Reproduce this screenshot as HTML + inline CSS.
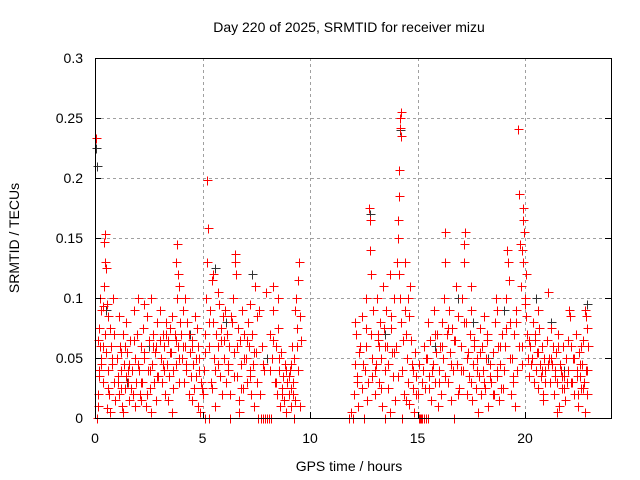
<!DOCTYPE html>
<html><head><meta charset="utf-8"><style>
html,body{margin:0;padding:0;background:#fff;}
svg{display:block;font-family:"Liberation Sans",sans-serif;}
</style></head><body>
<svg id="chart" width="640" height="480" viewBox="0 0 640 480" xmlns="http://www.w3.org/2000/svg">
<rect width="640" height="480" fill="#fff"/>
<text x="349" y="32" font-size="14" text-anchor="middle" fill="#000">Day 220 of 2025, SRMTID for receiver mizu</text>
<g id="grid"></g>
<g id="black"></g>
<g id="red"></g>
<rect x="95.5" y="58.5" width="516" height="360" fill="none" stroke="#000" stroke-width="1" shape-rendering="crispEdges"/>
<g id="ticks"></g>
<text x="349" y="471" font-size="14" text-anchor="middle">GPS time / hours</text>
<text transform="translate(19,238) rotate(-90)" font-size="14" text-anchor="middle">SRMTID / TECUs</text>
</svg>
<script>
const xTicks=[0,5,10,15,20];
const yTicks=[0,0.05,0.1,0.15,0.2,0.25,0.3];
const yTickLabels=["0","0.05","0.1","0.15","0.2","0.25","0.3"];
const redH=[0.05,0.1,0.12,0.15,0.2,0.25,0.3,0.35,0.4,0.42,0.45,0.48,0.5,0.55,0.6,0.3,0.35,0.45,0.5,0.6,0.65,0.7,0.75,0.8,0.85,0.9,0.95,0.55,0.7,0.2,0.25,0.15,
1.0,1.05,1.1,1.15,1.2,1.25,1.3,1.35,1.4,1.45,1.5,1.55,1.6,1.65,1.7,1.75,1.8,1.85,1.9,1.95,1.1,1.3,1.6,1.85,1.45,1.2,
2.0,2.05,2.1,2.15,2.2,2.25,2.3,2.35,2.4,2.45,2.5,2.55,2.6,2.65,2.7,2.75,2.8,2.85,2.9,2.95,2.3,2.6,2.85,2.15,
3.0,3.05,3.1,3.15,3.2,3.25,3.3,3.35,3.4,3.45,3.5,3.55,3.6,3.65,3.7,3.75,3.8,3.85,3.9,3.95,3.75,3.8,3.85,3.9,3.4,3.6,3.2,
4.0,4.05,4.1,4.15,4.2,4.25,4.3,4.35,4.4,4.45,4.5,4.55,4.6,4.7,4.75,4.8,4.85,4.9,4.95,4.65,4.2,4.5,4.8,
5.0,5.05,5.1,5.15,5.2,5.25,5.2,5.3,5.35,5.4,5.45,5.5,5.55,5.6,5.65,5.7,5.75,5.8,5.85,5.9,5.95,5.1,5.3,5.5,5.7,
6.0,6.05,6.1,6.15,6.2,6.25,6.3,6.35,6.4,6.45,6.5,6.55,6.6,6.65,6.7,6.75,6.8,6.85,6.9,6.95,6.5,6.3,6.7,
7.0,7.05,7.1,7.15,7.2,7.25,7.3,7.35,7.4,7.5,7.55,7.6,7.7,7.8,7.9,8.0,7.65,7.75,7.85,7.95,7.45,7.2,
8.1,8.2,8.15,8.25,8.3,8.35,8.4,8.45,8.5,8.55,8.6,8.65,8.7,8.75,8.8,8.85,8.9,8.95,8.5,8.3,
9.0,9.05,9.1,9.15,9.2,9.25,9.3,9.35,9.4,9.45,9.5,9.55,9.6,9.25,9.1,9.3,9.45,
11.8,11.9,12.0,12.05,12.1,12.1,12.15,12.2,12.25,12.3,12.4,12.5,12.55,12.6,12.65,12.7,12.75,12.78,12.8,12.82,12.85,12.9,12.95,12.6,12.4,
13.0,13.05,13.1,13.15,13.2,13.25,13.3,13.35,13.4,13.45,13.5,13.55,13.6,13.65,13.7,13.75,13.8,13.85,13.9,13.95,13.2,13.5,13.7,
14.0,14.05,14.1,14.12,14.15,14.18,14.2,14.22,14.25,14.1,14.15,14.2,14.25,14.3,14.35,14.4,14.45,14.5,14.55,14.6,14.65,14.7,14.75,14.8,14.85,14.9,14.95,14.3,14.55,14.4,
15.0,15.05,15.1,15.15,15.2,15.3,15.4,15.5,15.25,15.3,15.35,15.45,15.5,15.55,15.6,15.65,15.7,15.75,15.8,15.85,15.9,15.95,
16.0,16.05,16.1,16.15,16.2,16.25,16.3,16.3,16.35,16.4,16.45,16.5,16.55,16.6,16.65,16.7,16.75,16.8,16.85,16.9,16.95,
17.0,17.05,17.1,17.15,17.2,17.15,17.25,17.3,17.35,17.4,17.45,17.5,17.55,17.6,17.65,17.7,17.75,17.8,17.85,17.9,17.95,17.5,
18.0,18.05,18.1,18.15,18.2,18.25,18.3,18.35,18.4,18.5,18.55,18.6,18.65,18.7,18.75,18.8,18.85,18.9,18.95,18.7,
19.0,19.05,19.1,19.15,19.2,19.25,19.3,19.35,19.4,19.45,19.5,19.55,19.6,19.65,19.7,19.68,19.75,19.8,19.85,19.9,19.92,19.95,19.9,19.85,
20.0,20.05,20.1,20.15,20.2,20.25,20.3,20.35,20.4,20.45,20.5,20.55,20.6,20.65,20.7,20.75,20.8,20.85,20.9,20.95,20.05,20.6,
21.0,21.05,21.1,21.15,21.2,21.25,21.3,21.35,21.4,21.45,21.5,21.55,21.6,21.65,21.7,21.75,21.8,21.85,21.9,21.95,21.5,
22.0,22.05,22.1,22.15,22.2,22.25,22.3,22.35,22.4,22.45,22.5,22.55,22.6,22.65,22.7,22.75,22.8,22.85,22.9,22.95,22.85,22.9,22.8];
const redV=[.233,0,.01,.02,.04,.06,.09,.093,.11,.147,.153,.13,.125,.095,.085,.05,.03,.07,.055,.04,.02,.075,.06,.045,.1,.03,.015,.008,.005,.075,.1,.065,
.05,.035,.02,.06,.04,.01,.07,.045,.025,.08,.055,.03,.015,.065,.04,.02,.09,.05,.03,.07,.085,.005,.045,.01,.035,.025,
.1,.04,.02,.06,.03,.075,.05,.01,.085,.04,.065,.025,.1,.045,.07,.03,.055,.015,.08,.035,.095,.005,.06,.015,
.09,.05,.03,.07,.06,.02,.08,.045,.065,.035,.075,.055,.085,.025,.07,.045,.1,.06,.03,.08,.13,.145,.12,.11,.015,.005,.04,
.07,.05,.09,.03,.06,.04,.08,.02,.055,.035,.065,.045,.025,.05,.075,.01,.04,.005,.03,.085,.1,.015,.06,
.02,.04,.07,.1,.13,.158,.198,.06,.09,.03,.115,.08,.05,.01,.07,.045,.095,.035,.065,.02,.085,0,0,.12,.105,
.05,.09,.03,.07,.04,.06,.02,.08,.1,.055,.13,.12,.035,.075,.015,.065,.045,.09,.025,.07,.137,0,.005,
.05,.03,.08,.06,.04,.02,.07,.045,.01,.055,.03,0,0,0,0,0,.09,.06,.04,.105,.11,.095,
0,0,.07,.05,.09,.03,.06,.02,.075,.04,.01,.055,.025,.035,.015,.045,.005,.03,.1,.11,
.02,.04,.01,.06,.03,.05,.09,.1,.075,.115,.13,.085,.065,0,.025,.015,.04,
0,.005,0,.02,.045,.08,.07,.035,.01,.055,.025,0,.04,.1,.015,.03,.175,.165,.14,.12,.07,.05,.09,.06,.085,
.02,.045,.1,.065,.03,.08,.05,.01,.11,.075,.04,.09,.06,.025,.12,.085,.055,.035,.1,.015,.06,0,.005,
.06,.13,.165,.185,.207,.242,.25,.255,.235,.15,.12,.1,.08,.04,.02,.09,.07,.05,.03,.012,.11,.065,.045,.025,.005,.055,.035,0,.1,.13,
.02,0,0,0,0,0,0,0,.04,.06,.025,.05,.08,.035,.065,.015,.045,.09,.03,.055,.07,.01,
.04,.06,.02,.08,.05,.1,.155,.13,.07,.03,.09,.055,.015,.075,.04,0,.065,.11,.045,.085,.025,
.06,.1,.04,.13,.155,.145,.08,.02,.055,.035,.07,.09,.015,.045,.065,.025,.05,.005,.035,.075,.02,.11,
.06,.04,.085,.025,.05,.07,.01,.045,.03,.055,.02,.08,.1,.035,.06,.015,.045,.025,.07,.09,
.04,.06,.1,.14,.13,.115,.08,.02,.05,.03,.07,.01,.09,.04,.187,.241,.145,.11,.06,.175,.165,.155,.13,.14,
.1,.085,.07,.05,.035,.06,.045,.08,.03,.065,.04,.055,.025,.075,.045,.035,.06,.02,.05,.04,.12,.09,
.065,.105,.05,.03,.075,.045,.06,.02,.04,.055,.03,.07,.01,.045,.025,.06,.035,.015,.05,.03,.005,
.04,.09,.085,.06,.03,.05,.02,.07,.04,.01,.055,.035,.025,.045,.065,.03,.09,.085,.075,.06,.04,.02,.005];
const extraH=[0.18,0.28,0.38,0.62,0.78,0.88,1.08,1.22,1.38,1.52,1.68,1.82,1.98,2.12,2.28,2.42,2.58,2.72,2.88,3.02,3.18,3.32,3.48,3.62,3.78,3.92,4.08,4.22,4.38,4.52,4.68,4.82,4.98,5.12,5.28,5.42,5.58,5.72,5.88,6.02,6.18,6.32,6.48,6.62,6.78,6.92,7.08,7.22,7.38,7.52,7.68,7.82,8.12,8.28,8.42,8.58,8.72,8.88,9.02,9.12,9.22,9.38,9.52,
12.18,12.32,12.48,12.62,12.88,13.02,13.18,13.32,13.48,13.62,13.78,13.92,14.08,14.32,14.48,14.62,14.78,14.92,15.08,15.22,15.38,15.52,15.68,15.82,15.98,16.12,16.28,16.42,16.58,16.72,16.88,17.02,17.18,17.32,17.48,17.62,17.78,17.92,18.08,18.22,18.38,18.52,18.68,18.82,18.98,19.12,19.28,19.42,19.58,19.72,19.88,20.02,20.18,20.32,20.48,20.62,20.78,20.92,21.08,21.22,21.38,21.52,21.68,21.82,21.98,22.12,22.28,22.42,22.58,22.72,22.88,22.62,22.48,21.72,20.82];
const extraV=[.035,.045,.06,.025,.05,.07,.03,.055,.06,.04,.025,.065,.045,.03,.055,.02,.04,.06,.035,.065,.045,.07,.055,.04,.065,.05,.06,.045,.07,.06,.035,.05,.025,.055,.08,.025,.04,.06,.075,.065,.045,.085,.035,.06,.025,.05,.065,.035,.055,.085,.02,.045,.04,.065,.03,.05,.02,.04,.035,.045,.02,.06,.01,
.03,.06,.045,.075,.035,.04,.07,.025,.06,.045,.075,.055,.035,.065,.015,.085,.04,.02,.045,.03,.05,.025,.04,.07,.03,.06,.035,.075,.045,.065,.02,.04,.08,.05,.03,.06,.04,.055,.03,.065,.035,.02,.04,.06,.025,.075,.05,.035,.08,.06,.045,.095,.065,.05,.07,.055,.04,.03,.045,.05,.035,.06,.04,.025,.065,.03,.05,.035,.045,.025,.04,.06,.02,.035,.015,.03,.05];
const blackH=[0.05,0.1,0.5,3.8,5.6,7.3,9.5,12.8,14.2,16.9,19.0,20.5,21.2,22.9,2.5,8.0,13.5,15.8,18.3,21.8,6.1,4.4,1.5,17.6];
const blackV=[.225,.21,.09,.145,.125,.12,.13,.17,.24,.1,.09,.1,.08,.095,.06,.05,.07,.06,.05,.04,.08,.07,.03,.08];
const X0=95,X1=611,Y0=418,Y1=58,XMAX=24,YMAX=0.3;
function sx(h){return X0+(X1-X0)*h/XMAX;}
function sy(v){return Y0-(Y0-Y1)*v/YMAX;}
const NS="http://www.w3.org/2000/svg";
const grid=document.getElementById('grid'),ticks=document.getElementById('ticks');
function mk(tag,attrs,parent){const e=document.createElementNS(NS,tag);for(const k in attrs)e.setAttribute(k,attrs[k]);parent.appendChild(e);return e;}
xTicks.forEach(t=>{
  const x=Math.round(sx(t))+0.5;
  if(t>0){const g=mk('line',{x1:x,y1:Y1,x2:x,y2:Y0,stroke:'#a0a0a0','stroke-dasharray':'3,3','shape-rendering':'crispEdges'},grid);
  
  }
  const tk=mk('line',{x1:x,y1:Y0,x2:x,y2:Y0-6,stroke:'#000','shape-rendering':'crispEdges'},ticks);
  
  
  const lb=mk('text',{x:sx(t),y:443,'font-size':14,'text-anchor':'middle'},ticks);lb.textContent=t;
  
  
});
yTicks.forEach((t,i)=>{
  const y=Math.round(sy(t))+0.5;
  if(t>0&&t<YMAX){const g=mk('line',{x1:X0,y1:y,x2:X1,y2:y,stroke:'#a0a0a0','stroke-dasharray':'3,3','shape-rendering':'crispEdges'},grid);
  
  }
  const tk=mk('line',{x1:X0,y1:y,x2:X0+6,y2:y,stroke:'#000','shape-rendering':'crispEdges'},ticks);
  
  
  const tk2=mk('line',{x1:X1,y1:y,x2:X1-6,y2:y,stroke:'#000','shape-rendering':'crispEdges'},ticks);
  
  
  const lb=mk('text',{x:83,y:sy(t)+5,'font-size':14,'text-anchor':'end'},ticks);lb.textContent=yTickLabels[i];
  
  
});
function plot(H,V,g,col){
  for(let i=0;i<H.length;i++){
    const x=Math.round(sx(H[i]))+0.5,y=Math.round(sy(V[i]))+0.5;
    const p=mk('path',{d:`M${x-4},${y}h9M${x},${y-4}v9`,stroke:col,'stroke-width':1,fill:'none','shape-rendering':'crispEdges'},g);
    
    
  }
}
plot(blackH,blackV,document.getElementById('black'),'#333');
plot(redH,redV,document.getElementById('red'),'#ff0000');
plot(extraH,extraV,document.getElementById('red'),'#ff0000');
</script>
</body></html>
